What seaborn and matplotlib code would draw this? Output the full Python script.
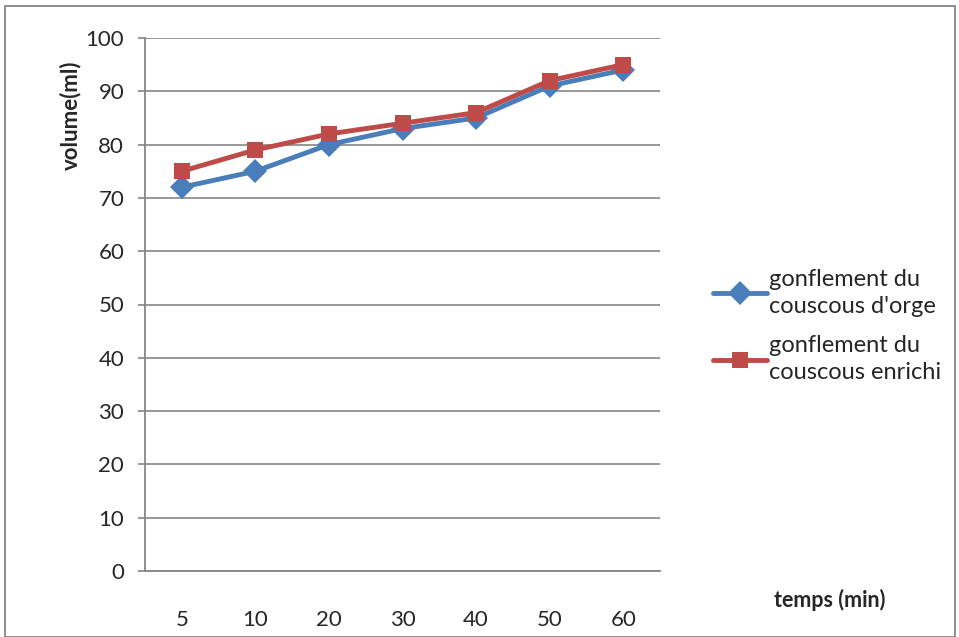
import matplotlib
matplotlib.use("Agg")
import matplotlib.pyplot as plt
from matplotlib.patches import Rectangle
import seaborn as sns
import pandas as pd

temps = ["5", "10", "20", "30", "40", "50", "60"]
orge = [72, 75, 80, 83, 85, 91, 94]
enrichi = [75, 79, 82, 84, 86, 92, 95]
series_names = ["gonflement du\ncouscous d'orge", "gonflement du\ncouscous enrichi"]
y_ticks = [0, 10, 20, 30, 40, 50, 60, 70, 80, 90, 100]

df = pd.DataFrame({
    "temps": temps * 2,
    "volume": orge + enrichi,
    "serie": [series_names[0]] * len(temps) + [series_names[1]] * len(temps),
})

sns.set_theme(style="white")
plt.rcParams["font.family"] = ["Lato", "DejaVu Sans"]

fig = plt.figure(figsize=(9.59, 6.37), dpi=100)
ax = fig.add_axes([145 / 959, 1 - 571 / 637, (660 - 145) / 959, (571 - 38) / 637])

blue = "#4a7ebb"
red = "#be4b48"
sns.lineplot(data=df, x="temps", y="volume", hue="serie", style="serie",
             palette=[blue, red], markers=["D", "s"], dashes=False,
             linewidth=3.5, markersize=12, markeredgewidth=0,
             sort=False, ax=ax)

ax.set_ylim(0, 100)
ax.set_xlim(-0.5, len(temps) - 0.5)
ax.set_yticks(y_ticks)
ax.set_yticklabels([str(v) for v in y_ticks], fontsize=16)
ax.tick_params(axis="y", which="major", length=5, width=1.2, color="#868686",
               direction="out", left=True, pad=10)
ax.tick_params(axis="x", length=0, pad=28, labelsize=16)
ax.yaxis.grid(True, color="#868686", linewidth=1.2)
ax.set_axisbelow(True)
for s in ["top", "right"]:
    ax.spines[s].set_visible(False)
for s in ["left", "bottom"]:
    ax.spines[s].set_color("#868686")
    ax.spines[s].set_linewidth(1.3)

ax.set_xlabel("")
ax.set_ylabel("")
fig.text(70 / 959, 1 - 115 / 637, "volume(ml)", rotation=90, fontsize=16,
         fontweight="bold", ha="center", va="center")
fig.text(830 / 959, 1 - 600 / 637, "temps (min)", fontsize=15.5,
         fontweight="bold", ha="center", va="center")

handles, labels = ax.get_legend_handles_labels()
leg = ax.legend(handles, labels, loc="center left", bbox_to_anchor=(701 / 959, 1 - 326 / 637),
                bbox_transform=fig.transFigure, frameon=False, fontsize=17,
                handlelength=2.3, handletextpad=0.1, labelspacing=0.8, borderpad=0)
for t in leg.get_texts():
    t.set_linespacing(1.35)

fig.add_artist(Rectangle((5 / 959, 0), 950 / 959, 1 - 6 / 637, transform=fig.transFigure,
                         fill=False, edgecolor="#868686", linewidth=1.3))

fig.savefig("out.png", dpi=100)
